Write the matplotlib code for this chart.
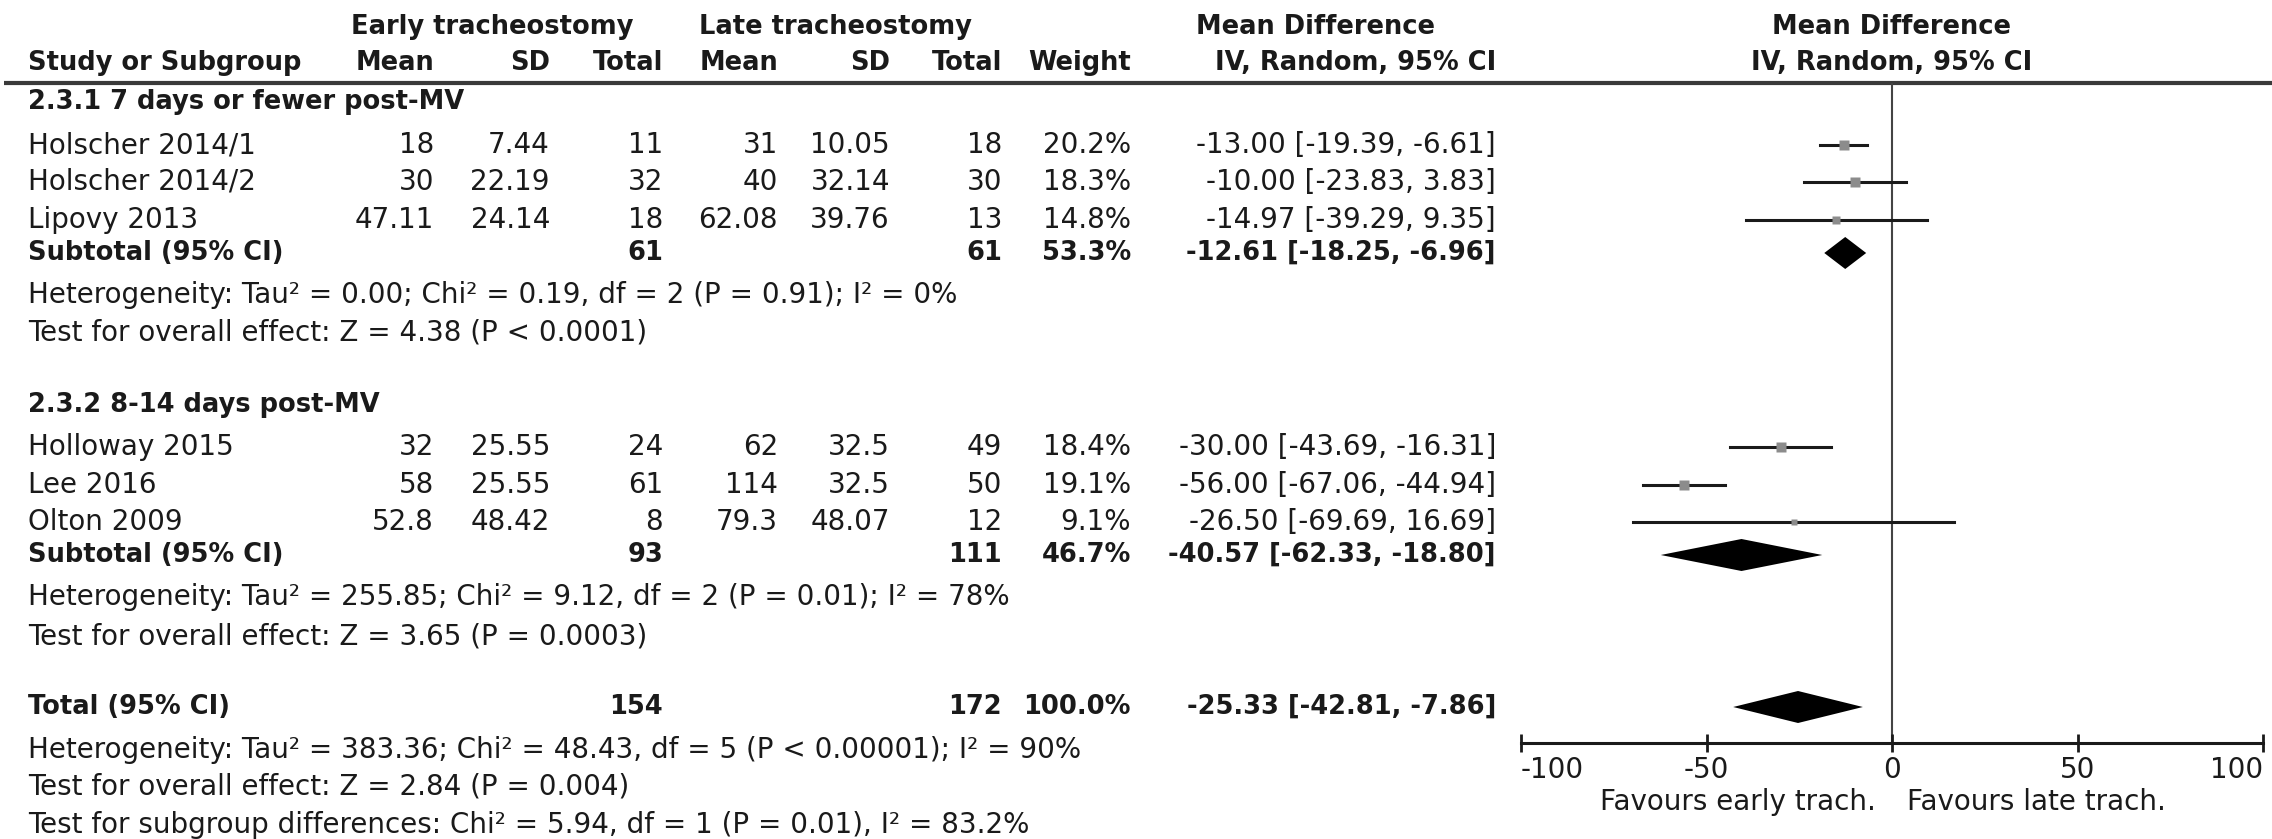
import matplotlib
matplotlib.use("Agg")
import matplotlib.pyplot as plt
import numpy as np

plt.rcParams['font.family'] = ['DejaVu Sans']
plt.rcParams['axes.unicode_minus'] = False

# study level data
studies = ["Holscher 2014/1", "Holscher 2014/2", "Lipovy 2013",
           "Holloway 2015", "Lee 2016", "Olton 2009"]
early_mean = [18, 30, 47.11, 32, 58, 52.8]
early_sd = [7.44, 22.19, 24.14, 25.55, 25.55, 48.42]
early_n = [11, 32, 18, 24, 61, 8]
late_mean = [31, 40, 62.08, 62, 114, 79.3]
late_sd = [10.05, 32.14, 39.76, 32.5, 32.5, 48.07]
late_n = [18, 30, 13, 49, 50, 12]
weight = [20.2, 18.3, 14.8, 18.4, 19.1, 9.1]
md = [-13.00, -10.00, -14.97, -30.00, -56.00, -26.50]
ci_lo = [-19.39, -23.83, -39.29, -43.69, -67.06, -69.69]
ci_hi = [-6.61, 3.83, 9.35, -16.31, -44.94, 16.69]

# subtotals + total
pooled_names = ["Subtotal (95% CI)", "Subtotal (95% CI)", "Total (95% CI)"]
pooled_early_n = [61, 93, 154]
pooled_late_n = [61, 111, 172]
pooled_weight = [53.3, 46.7, 100.0]
pooled_md = [-12.61, -40.57, -25.33]
pooled_lo = [-18.25, -62.33, -42.81]
pooled_hi = [-6.96, -18.80, -7.86]

subgroups = ["2.3.1 7 days or fewer post-MV", "2.3.2 8-14 days post-MV"]
stats_lines = [
    ["Heterogeneity: Tau² = 0.00; Chi² = 0.19, df = 2 (P = 0.91); I² = 0%",
     "Test for overall effect: Z = 4.38 (P < 0.0001)"],
    ["Heterogeneity: Tau² = 255.85; Chi² = 9.12, df = 2 (P = 0.01); I² = 78%",
     "Test for overall effect: Z = 3.65 (P = 0.0003)"],
    ["Heterogeneity: Tau² = 383.36; Chi² = 48.43, df = 5 (P < 0.00001); I² = 90%",
     "Test for overall effect: Z = 2.84 (P = 0.004)",
     "Test for subgroup differences: Chi² = 5.94, df = 1 (P = 0.01), I² = 83.2%"],
]
xticks = [-100, -50, 0, 50, 100]

# layout (pixel rows / columns of the 2272x839 canvas)
W, H = 2272, 839
study_y = [145, 182, 220, 447, 485, 522]
pooled_y = [253, 555, 707]
subgroup_y = [102, 405]
stats_y = [[295, 333], [597, 637], [750, 787, 825]]
x_name = 28
x_cols = [434, 550, 663, 778, 890, 1002, 1131, 1496]
fs = 20     # regular text
fb = 18.5   # bold text
tc = '#1a1a1a'

fig = plt.figure(figsize=(W / 100, H / 100), dpi=100)
ax = fig.add_axes([0, 0, 1, 1])
ax.set_xlim(0, W)
ax.set_ylim(H, 0)
ax.axis('off')

def bold(x, y, s, ha='left'):
    ax.text(x, y, s, ha=ha, va='center', fontsize=fb, fontweight='bold', color=tc)

def reg(x, y, s, ha='left'):
    ax.text(x, y, s, ha=ha, va='center', fontsize=fs, color=tc)

# headers
bold(492, 27, "Early tracheostomy", 'center')
bold(835, 27, "Late tracheostomy", 'center')
bold(1315, 27, "Mean Difference", 'center')
bold(1892, 27, "Mean Difference", 'center')
bold(x_name, 63, "Study or Subgroup")
for x, h in zip(x_cols, ["Mean", "SD", "Total", "Mean", "SD", "Total", "Weight", "IV, Random, 95% CI"]):
    bold(x, 63, h, 'right')
bold(1892, 63, "IV, Random, 95% CI", 'center')
ax.plot([4, W], [83, 83], color='#3a3a3a', lw=3, solid_capstyle='butt')

for name, y in zip(subgroups, subgroup_y):
    bold(x_name, y, name)

for i, y in enumerate(study_y):
    vals = ["{:g}".format(early_mean[i]), "{:g}".format(early_sd[i]), str(early_n[i]),
            "{:g}".format(late_mean[i]), "{:g}".format(late_sd[i]), str(late_n[i]),
            "{:.1f}%".format(weight[i]),
            "{:.2f} [{:.2f}, {:.2f}]".format(md[i], ci_lo[i], ci_hi[i])]
    reg(x_name, y, studies[i])
    for x, v in zip(x_cols, vals):
        reg(x, y, v, 'right')

for i, y in enumerate(pooled_y):
    bold(x_name, y, pooled_names[i])
    vals = [str(pooled_early_n[i]), str(pooled_late_n[i]), "{:.1f}%".format(pooled_weight[i]),
            "{:.2f} [{:.2f}, {:.2f}]".format(pooled_md[i], pooled_lo[i], pooled_hi[i])]
    for x, v in zip([x_cols[2], x_cols[5], x_cols[6], x_cols[7]], vals):
        bold(x, y, v, 'right')

for lines, ys in zip(stats_lines, stats_y):
    for s, y in zip(lines, ys):
        reg(x_name, y, s)

# forest plot
x0, x1, ytop, ybot = 1521, 2263, 83, 743
fx = fig.add_axes([x0 / W, (H - ybot) / H, (x1 - x0) / W, (ybot - ytop) / H])
fx.set_xlim(-100, 100)
fx.set_ylim(ybot, ytop)
fx.patch.set_alpha(0)
for s in ['top', 'left', 'right']:
    fx.spines[s].set_visible(False)
fx.spines['bottom'].set_linewidth(2.2)
fx.spines['bottom'].set_color('#1a1a1a')
fx.set_yticks([])
fx.set_xticks(xticks)
fx.set_xticklabels([str(t) for t in xticks])
fx.tick_params(axis='x', direction='inout', length=13, width=2, labelsize=fs, pad=3, colors='#1a1a1a')
labels = fx.get_xticklabels()
labels[0].set_ha('left')
labels[-1].set_ha('right')
fx.axvline(0, color='#444444', lw=1.5, zorder=1)

for i, y in enumerate(study_y):
    fx.plot([ci_lo[i], ci_hi[i]], [y, y], color='#1a1a1a', lw=2.2, zorder=2)
    fx.plot(md[i], y, marker='s', ms=1.6 * np.sqrt(weight[i]), color='#8c8c8c', mec='none', zorder=3)

for i, y in enumerate(pooled_y):
    fx.fill([pooled_lo[i], pooled_md[i], pooled_hi[i], pooled_md[i]],
            [y, y - 16, y, y + 16], color='black', lw=0, zorder=3)

fig.text(1876 / W, 1 - 802 / H, "Favours early trach.", ha='right', va='center', fontsize=fs, color=tc)
fig.text(1907 / W, 1 - 802 / H, "Favours late trach.", ha='left', va='center', fontsize=fs, color=tc)

fig.savefig("out.png", dpi=100)
